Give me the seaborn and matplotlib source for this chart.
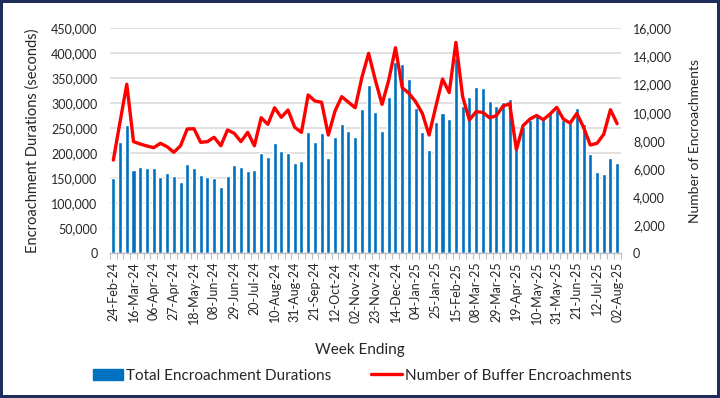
import numpy as np
import pandas as pd
import matplotlib
matplotlib.use("Agg")
import matplotlib.pyplot as plt
import seaborn as sns
from matplotlib.patches import Patch
from matplotlib.lines import Line2D

# ---------------- data ----------------
week_labels = pd.date_range("2024-02-24", "2025-08-02", freq="7D").strftime("%d-%b-%y").tolist()

durations = [
    150000, 222000, 257000, 166000, 173000, 170000, 170000, 152600, 160000, 155000,
    143000, 178000, 171000, 156600, 152600, 150000, 132600, 155000, 177000, 173000,
    164600, 166000, 200000, 192000, 221000, 204600, 200600, 181300, 184600, 243300,
    222000, 240600, 191300, 233300, 258000, 244000, 233300, 289300, 337300, 282600,
    245300, 312000, 382600, 378000, 348000, 291300, 243300, 207300, 262000, 280000,
    269300, 390000, 295300, 313300, 333300, 331300, 305300, 294600, 302000, 308600,
    226000, 253000, 266600, 275000, 271000, 280000, 286600, 266600, 260000, 291300,
    258000, 198600, 162000, 158600, 190000, 180000,
]

encroachments = [
    6630, 9360, 12020, 7940, 7770, 7630, 7510, 7820, 7580, 7180,
    7650, 8840, 8860, 7890, 7940, 8250, 7650, 8770, 8530, 7940,
    8600, 7650, 9640, 9170, 10350, 9670, 10190, 8960, 8600, 11260,
    10830, 10740, 8410, 10120, 11140, 10740, 10350, 12510, 14220, 12320,
    10590, 12320, 14620, 11780, 11380, 10780, 9950, 8410, 10420, 12390,
    11430, 15000, 11140, 9480, 10070, 10020, 9640, 9780, 10460, 10640,
    7380, 9080, 9540, 9800, 9500, 9900, 10380, 9540, 9260, 9950,
    8960, 7700, 7820, 8460, 10210, 9220,
]

left_ticks = list(range(0, 450001, 50000))
right_ticks = list(range(0, 16001, 2000))
label_every = 3

df = pd.DataFrame({"week": week_labels, "pos": np.arange(len(week_labels)),
                   "duration": durations, "count": encroachments})

# ---------------- style ----------------
sns.set_theme(style="white")
plt.rcParams["font.family"] = ["Lato", "DejaVu Sans"]

BLUE = "#0070C0"
RED = "#FF0000"
GRID = "#D9D9D9"
TEXT = "#262626"

fig = plt.figure(figsize=(7.2, 3.98), dpi=100)
fig.patch.set_facecolor("white")
fig.patch.set_edgecolor("#1F2D5A")
fig.patch.set_linewidth(3)

ax = fig.add_axes([110 / 720, 1 - 253.3 / 398, 510.5 / 720, 225 / 398])

sns.barplot(data=df, x="week", y="duration", color=BLUE, saturation=1,
            width=0.6, ax=ax, zorder=2)
ax.set_xlim(-0.5, len(week_labels) - 0.5)
ax.set_ylim(0, 450000)
ax.set_yticks(left_ticks)
ax.set_yticklabels([f"{v:,}" for v in left_ticks])
ax.yaxis.grid(True, color=GRID, linewidth=1.1, zorder=0)
ax.set_axisbelow(True)

for s in ["top", "right", "left"]:
    ax.spines[s].set_visible(False)
ax.spines["bottom"].set_color("#BFBFBF")
ax.spines["bottom"].set_linewidth(1)

major = list(range(0, len(week_labels), label_every))
ax.set_xticks(major)
ax.set_xticklabels([week_labels[i] for i in major], rotation=90)
ax.set_xticks(np.arange(-0.5, len(week_labels), 1), minor=True)
ax.tick_params(axis="x", which="major", length=0, pad=6, labelsize=9, labelcolor=TEXT)
ax.tick_params(axis="x", which="minor", length=4, width=0.8, color="#BFBFBF", bottom=True)
ax.tick_params(axis="y", length=0, pad=9, labelsize=9, labelcolor=TEXT)

ax.set_xlabel("Week Ending", fontsize=11, color=TEXT)
ax.xaxis.set_label_coords(0.49, -0.40)
ax.set_ylabel("Encroachment Durations (seconds)", fontsize=10.5, color=TEXT)
ax.yaxis.set_label_coords(-0.137, 0.5)

ax2 = ax.twinx()
sns.lineplot(data=df, x="pos", y="count", color=RED, linewidth=2.4, ax=ax2, zorder=3)
ax2.set_ylim(0, 16000)
ax2.set_xlim(-0.5, len(week_labels) - 0.5)
ax2.set_yticks(right_ticks)
ax2.set_yticklabels([f"{v:,}" for v in right_ticks])
ax2.tick_params(axis="y", length=0, pad=9, labelsize=9, labelcolor=TEXT)
ax2.set_ylabel("Number of Encroachments", fontsize=10, color=TEXT)
ax2.yaxis.set_label_coords(1.134, 0.5)
ax2.set_xlabel("")
for s in ["top", "right", "left", "bottom"]:
    ax2.spines[s].set_visible(False)
ax2.grid(False)

handles = [Patch(facecolor=BLUE, edgecolor=BLUE),
           Line2D([0], [0], color=RED, linewidth=2.4)]
fig.legend(handles, ["Total Encroachment Durations", "Number of Buffer Encroachments"],
           loc="center", bbox_to_anchor=(0.503, 0.056), ncol=2, frameon=False,
           fontsize=11, handlelength=2.0, handletextpad=0.2, columnspacing=2.6,
           labelcolor=TEXT)

fig.savefig("out.png", dpi=100)
